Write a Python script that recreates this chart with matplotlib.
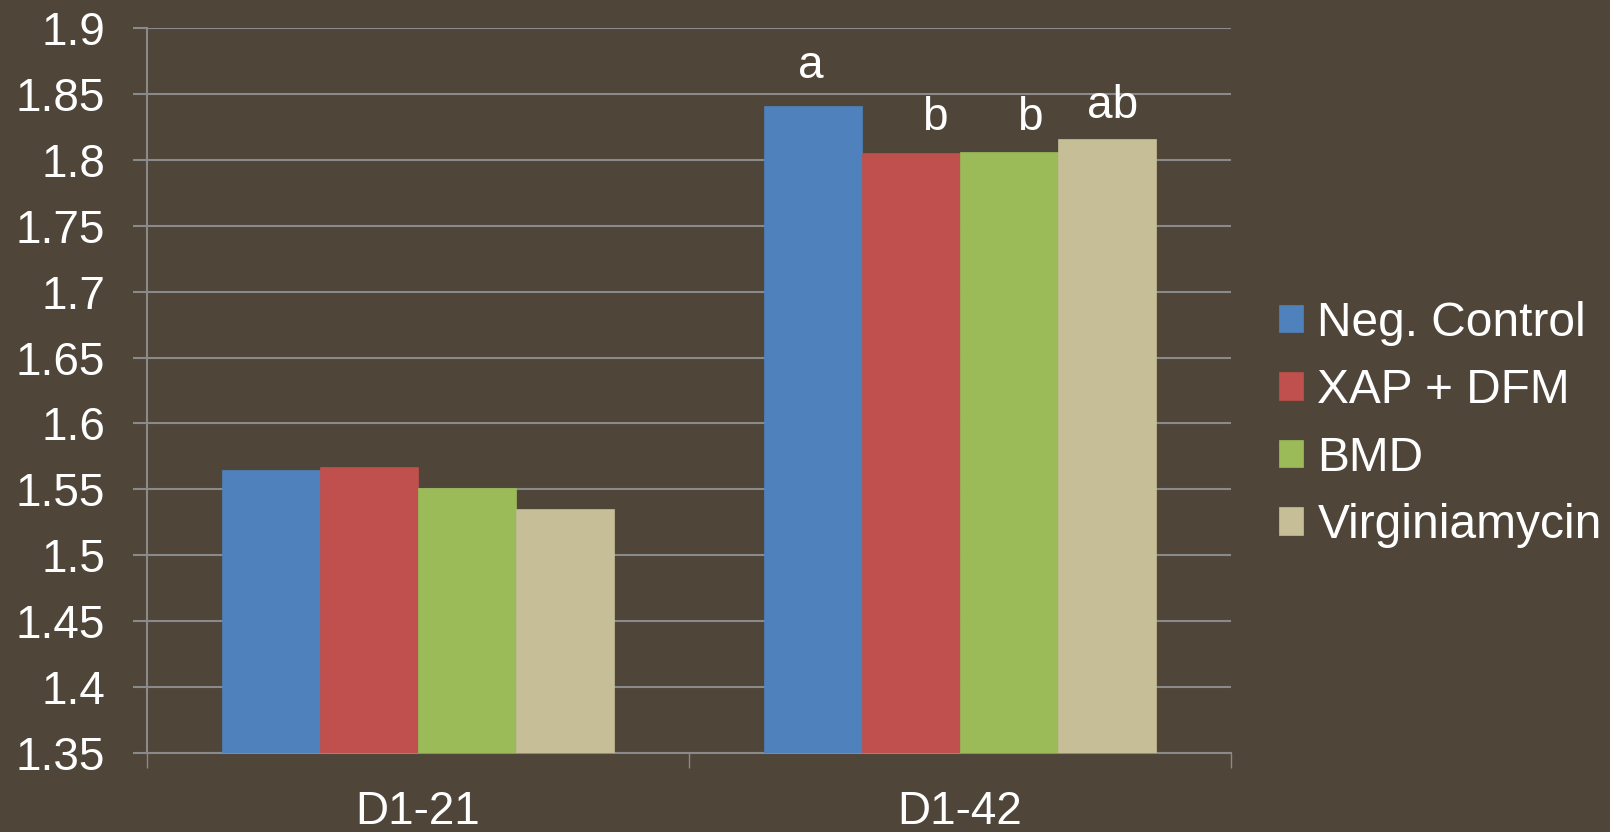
import numpy as np
import matplotlib
matplotlib.use("Agg")
from matplotlib import pyplot as plt

# data
periods = ["D1-21", "D1-42"]
treatments = ["Neg. Control", "XAP + DFM", "BMD", "Virginiamycin"]
neg_control = [1.565, 1.841]
xap_dfm = [1.567, 1.805]
bmd = [1.551, 1.806]
virginiamycin = [1.535, 1.816]
d42_letters = ["a", "b", "b", "ab"]

colors = ["#4F81BD", "#C0504D", "#9BBB59", "#C6BE97"]
bg = "#4F4539"
grid_col = "#8A8A8A"

plt.rcParams["font.family"] = ["Liberation Sans", "DejaVu Sans"]

fig = plt.figure(figsize=(16.1, 8.32), dpi=100, facecolor=bg)
ax = fig.add_axes([0.0913, 0.095, 0.6733, 0.8713], facecolor=bg)

x = np.arange(len(periods))
width = 0.181
series = [neg_control, xap_dfm, bmd, virginiamycin]
for i, (vals, name) in enumerate(zip(series, treatments)):
    ax.bar(x + (i - 1.5) * width, vals, width, bottom=0, color=colors[i],
           label=name, zorder=3, edgecolor=colors[i], linewidth=0.5)

# significance letters (hand-placed text boxes in the original)
letter_x = [0.725, 0.954, 1.129, 1.282]
letter_y = [1.871, 1.832, 1.832, 1.841]
for lx, ly, t in zip(letter_x, letter_y, d42_letters):
    ax.text(lx, ly, t, color="white", fontsize=33, ha="center", va="center", zorder=4)

ax.set_xlim(-0.5, 1.5)
ax.set_ylim(1.35, 1.9)
ax.set_yticks(np.arange(1.35, 1.901, 0.05))
ax.set_yticklabels(["1.35", "1.4", "1.45", "1.5", "1.55", "1.6", "1.65",
                    "1.7", "1.75", "1.8", "1.85", "1.9"])
ax.set_xticks(x)
ax.set_xticklabels(periods)
ax.set_xticks([-0.5, 0.5, 1.5], minor=True)

ax.yaxis.grid(True, color=grid_col, linewidth=1.5, zorder=0)
ax.set_axisbelow(True)
for s in ["top", "right"]:
    ax.spines[s].set_visible(False)
for s in ["left", "bottom"]:
    ax.spines[s].set_color(grid_col)
    ax.spines[s].set_linewidth(1.5)

ax.tick_params(axis="y", colors=grid_col, labelcolor="white", labelsize=33,
               length=10, width=1.5, pad=20)
ax.tick_params(axis="x", which="major", length=0, labelcolor="white",
               labelsize=33, pad=27)
ax.tick_params(axis="x", which="minor", length=11, width=1, colors=grid_col)

leg = ax.legend(loc="center left", bbox_to_anchor=(0.7945, 0.49),
                bbox_transform=fig.transFigure, frameon=False, fontsize=34.5,
                handlelength=0.5, handleheight=0.5, handletextpad=0.3,
                labelspacing=0.47, borderaxespad=0, borderpad=0)
for t in leg.get_texts():
    t.set_color("white")

fig.savefig("out.png", dpi=100, facecolor=bg)
